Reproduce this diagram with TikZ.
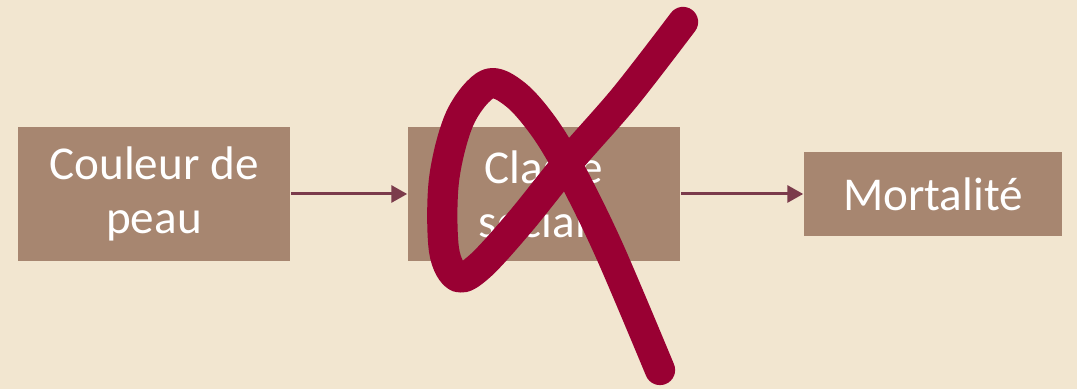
\documentclass[tikz,border=0pt]{standalone}
\usepackage{fontspec}
\setmainfont{Carlito}
\usetikzlibrary{arrows.meta}
\definecolor{bgc}{HTML}{F2E6D0}
\definecolor{boxc}{HTML}{A78670}
\definecolor{arrc}{HTML}{7B3B4B}
\definecolor{xc}{HTML}{990033}
\tikzset{
  box/.style={fill=boxc, draw=none, inner sep=0pt, text=white, align=center,
    font=\fontsize{13.4}{15.4}\selectfont},
  conn/.style={draw=arrc, line width=0.85pt, -{Triangle[length=4.5pt,width=4.8pt]}},
  cross/.style={draw=xc, line width=8.6pt, line cap=round, line join=round}
}
\begin{document}
\begin{tikzpicture}[x=0.01cm,y=-0.01cm]
\fill[bgc] (0,0) rectangle (1077,389);
\useasboundingbox (0,0) rectangle (1077,389);
\node[box, minimum width=2.72cm, minimum height=1.34cm] (b1) at (154,194) {Couleur de\\peau};
\node[box, minimum width=2.72cm, minimum height=1.34cm] (b2) at (544,194) {Classe\\sociale};
\node[box, minimum width=2.58cm, minimum height=0.84cm] (b3) at (933,194) {Mortalité};
\draw[conn] (b1.east) -- (b2.west);
\draw[conn] (b2.east) -- (b3.west);
\draw[cross] plot[smooth, tension=0.55] coordinates {(683,22) (625,97) (570,160) (520,222) (480,266) (458,277) (444,250) (444,180) (460,118) (488,84) (516,95) (546,130) (574,178) (610,252) (660,370)};
\end{tikzpicture}
\end{document}
